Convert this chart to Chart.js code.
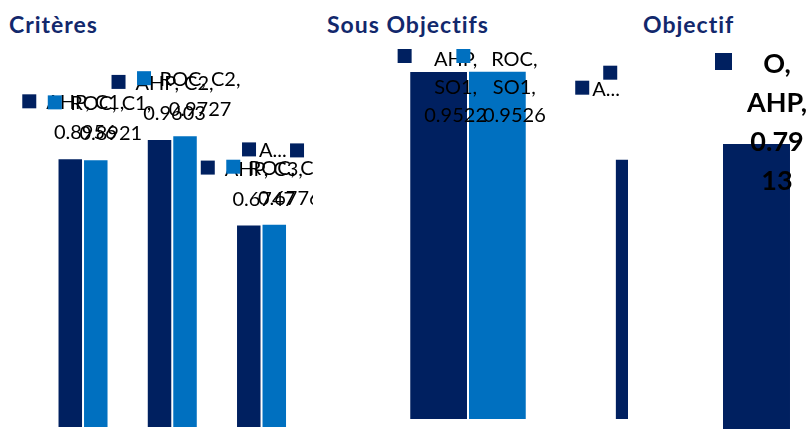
<!DOCTYPE html>
<html><head><meta charset="utf-8">
<script src="https://cdn.jsdelivr.net/npm/chart.js@4.4.1/dist/chart.umd.min.js"></script>
<style>
html,body{margin:0;padding:0;background:#fff;}
body{width:809px;height:429px;position:relative;overflow:hidden;}
.panel{position:absolute;top:0;height:429px;overflow:hidden;}
.panel canvas{position:absolute;top:0;left:0;}
.title{position:absolute;font-family:Lato,sans-serif;font-weight:700;font-size:23px;letter-spacing:1px;line-height:23px;color:#12286c;white-space:nowrap;}
</style></head><body>
<div class="title" id="t0" style="left:9px;top:13px"></div>
<div class="title" id="t1" style="left:327px;top:13px"></div>
<div class="title" id="t2" style="left:643px;top:13px"></div>
<div class="panel" style="left:0;width:313px"><canvas id="c1" width="400" height="429" style="width:400px;height:429px"></canvas></div>
<div class="panel" style="left:320px;width:308px"><canvas id="c2" width="460" height="429" style="width:460px;height:429px"></canvas></div>
<div class="panel" style="left:640px;width:169px"><canvas id="c3" width="169" height="429" style="width:169px;height:429px"></canvas></div>
<script>
// ---- data ----
const panelTitles = ['Critères', 'Sous Objectifs', 'Objectif'];
const seriesNames = ['AHP', 'ROC'];
const critCategories = ['C1', 'C2', 'C3', 'C4'];
const critAHP = [0.8956, 0.9603, 0.6747, 0.7320];
const critROC = [0.8921, 0.9727, 0.6776, 0.7390];
const sousCategories = ['SO1', 'SO2'];
const sousAHP = [0.9522, 0.7122];
const sousROC = [0.9526, 0.7130];
const objCategories = ['O'];
const objAHP = [0.7913];

const AHP_COLOR = '#002060';
const ROC_COLOR = '#0070C0';

panelTitles.forEach((t, i) => document.getElementById('t' + i).textContent = t);

const labelPlugin = {
  id: 'excelLabels',
  afterDatasetsDraw(chart, args, opts) {
    const ctx = chart.ctx;
    ctx.save();
    chart.data.datasets.forEach((ds, di) => {
      const meta = chart.getDatasetMeta(di);
      meta.data.forEach((el, i) => {
        const lines = opts.format(ds.label, chart.data.labels[i], ds.data[i]);
        const n = lines.length;
        let base = el.y - opts.gap - (n - 1) * opts.lineH;
        base = Math.max(base, opts.minBase);
        ctx.fillStyle = ds.backgroundColor;
        ctx.fillRect(el.x + opts.markerDx, base - opts.markerLift - opts.marker, opts.marker, opts.marker);
        ctx.fillStyle = '#000';
        ctx.font = opts.font;
        ctx.textAlign = 'center';
        ctx.textBaseline = 'alphabetic';
        lines.forEach((t, k) => ctx.fillText(t, el.x + opts.textDx, base + k * opts.lineH));
      });
    });
    if (opts.ghost) {
      const g = opts.ghost;
      const el = chart.getDatasetMeta(0).data[g.index];
      const mx = el.x + g.dx, my = el.y + g.dy;
      ctx.fillStyle = chart.data.datasets[0].backgroundColor;
      ctx.fillRect(mx, my, opts.marker, opts.marker);
      ctx.fillStyle = '#000';
      ctx.font = opts.font;
      ctx.textAlign = 'left';
      ctx.fillText(g.text, mx + opts.marker + 3, my + opts.marker + 1);
    }
    ctx.restore();
  }
};

function makeChart(id, labels, datasets, cfg) {
  return new Chart(document.getElementById(id), {
    type: 'bar',
    data: { labels, datasets },
    options: {
      responsive: false,
      animation: false,
      layout: { padding: cfg.padding },
      datasets: { bar: { categoryPercentage: cfg.catPct, barPercentage: 1 } },
      scales: {
        x: { display: false, grid: { display: false } },
        y: { display: false, min: 0, max: 1, grid: { display: false } }
      },
      plugins: {
        legend: { display: false },
        tooltip: { enabled: false },
        excelLabels: cfg.labels
      }
    },
    plugins: [labelPlugin]
  });
}

function ds(label, data, color) {
  return { label, data, backgroundColor: color, borderColor: 'rgba(255,255,255,0.12)', borderWidth: 1 };
}

makeChart('c1', critCategories,
  [ds(seriesNames[0], critAHP, AHP_COLOR), ds(seriesNames[1], critROC, ROC_COLOR)],
  {
    padding: { left: 38.4, right: 4.6, top: 127, bottom: 2 },
    catPct: 0.5714,
    labels: {
      format: (s, c, v) => [s + ', ' + c + ',', v.toFixed(4)],
      font: '20px Lato', lineH: 30, gap: 19, minBase: 0,
      textDx: 15, markerDx: -48, marker: 14, markerLift: 1,
      ghost: { index: 3, dx: -96, dy: -65, text: 'A...' }
    }
  });

makeChart('c2', sousCategories,
  [ds(seriesNames[0], sousAHP, AHP_COLOR), ds(seriesNames[1], sousROC, ROC_COLOR)],
  {
    padding: { left: 45.2, right: 3.6, top: 53.5, bottom: 10 },
    catPct: 0.5714,
    labels: {
      format: (s, c, v) => [s + ',', c + ',', v.toFixed(4)],
      font: '20px Lato', lineH: 28, gap: 20, minBase: 66,
      textDx: 17, markerDx: -41, marker: 14, markerLift: 3,
      ghost: { index: 1, dx: -69, dy: -78, text: 'A...' }
    }
  });

makeChart('c3', objCategories,
  [ds(seriesNames[0], objAHP, AHP_COLOR)],
  {
    padding: { left: 64, right: 0, top: 67.6, bottom: 0 },
    catPct: 0.657,
    labels: {
      format: (s, c, v) => { const t = v.toFixed(4); return [c + ',', s + ',', t.slice(0, 4), t.slice(4)]; },
      font: 'bold 27px Lato', lineH: 39, gap: 20, minBase: 73,
      textDx: 20.5, markerDx: -41.5, marker: 17, markerLift: 3
    }
  });
</script>
</body></html>
